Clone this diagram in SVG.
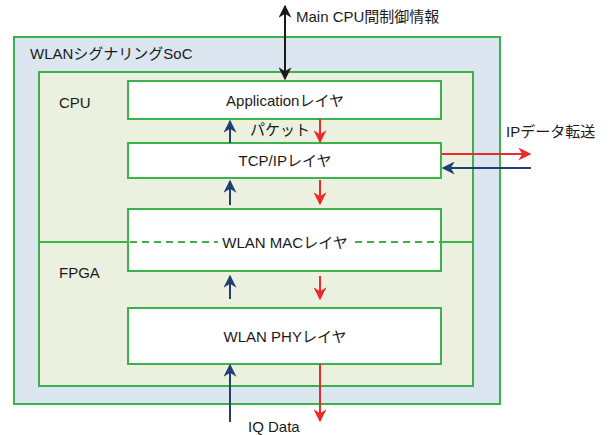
<svg xmlns="http://www.w3.org/2000/svg" width="609" height="435" viewBox="0 0 609 435">
  <style>
    text { font-family: "Liberation Sans", "Noto Sans CJK JP", sans-serif; font-size: 15px; fill: #1a1a1a; }
    .box { stroke: #3cb34a; stroke-width: 2; }
    .layer { fill: #ffffff; stroke: #3cb34a; stroke-width: 2; }
    .up { stroke: #223f73; stroke-width: 2; fill: none; }
    .down { stroke: #ec2a2a; stroke-width: 2; fill: none; }
    .ctrl { stroke: #1a1a1a; stroke-width: 2; fill: none; }
  </style>
  <defs>
    <marker id="ah-blue" viewBox="0 0 10 10" refX="9" refY="5" markerWidth="6.5" markerHeight="6.5" orient="auto-start-reverse" markerUnits="strokeWidth">
      <path d="M0,0 L10,5 L0,10 L3,5 Z" fill="#223f73"/>
    </marker>
    <marker id="ah-red" viewBox="0 0 10 10" refX="9" refY="5" markerWidth="6.5" markerHeight="6.5" orient="auto-start-reverse" markerUnits="strokeWidth">
      <path d="M0,0 L10,5 L0,10 L3,5 Z" fill="#ec2a2a"/>
    </marker>
    <marker id="ah-black" viewBox="0 0 10 10" refX="9" refY="5" markerWidth="6.5" markerHeight="6.5" orient="auto-start-reverse" markerUnits="strokeWidth">
      <path d="M0,0 L10,5 L0,10 L3,5 Z" fill="#1a1a1a"/>
    </marker>
  </defs>

  <!-- SoC enclosure -->
  <g id="soc">
    <rect class="box" x="14" y="37" width="486" height="367" fill="#dce6f0"/>
    <text x="30" y="59">WLANシグナリングSoC</text>
  </g>

  <!-- CPU / FPGA area -->
  <g id="cpu-fpga">
    <rect class="box" x="39" y="72" width="434" height="314" fill="#ebf1de"/>
    <line class="box" x1="39" y1="242" x2="128" y2="242"/>
    <line class="box" x1="441" y1="242" x2="473" y2="242"/>
    <text x="59" y="108">CPU</text>
    <text x="59" y="278">FPGA</text>
  </g>

  <g id="app-layer">
    <rect class="layer" x="128" y="81" width="313" height="38"/>
    <text x="285" y="106" text-anchor="middle">Applicationレイヤ</text>
  </g>

  <g id="tcpip-layer">
    <rect class="layer" x="128" y="143" width="313" height="35"/>
    <text x="285" y="166" text-anchor="middle">TCP/IPレイヤ</text>
  </g>

  <g id="mac-layer">
    <rect class="layer" x="128" y="209" width="313" height="62"/>
    <line x1="130" y1="242" x2="218" y2="242" stroke="#3cb34a" stroke-width="2" stroke-dasharray="7,5"/>
    <line x1="355" y1="242" x2="441" y2="242" stroke="#3cb34a" stroke-width="2" stroke-dasharray="7,5"/>
    <text x="285" y="248" text-anchor="middle">WLAN MACレイヤ</text>
  </g>

  <g id="phy-layer">
    <rect class="layer" x="128" y="308" width="313" height="56"/>
    <text x="285" y="342" text-anchor="middle">WLAN PHYレイヤ</text>
  </g>

  <!-- data flow connectors -->
  <g id="connectors">
    <line class="ctrl" x1="285" y1="6" x2="285" y2="79" marker-start="url(#ah-black)" marker-end="url(#ah-black)"/>

    <line class="up" x1="230" y1="143" x2="230" y2="121" marker-end="url(#ah-blue)"/>
    <line class="down" x1="320" y1="119" x2="320" y2="142" marker-end="url(#ah-red)"/>

    <line class="up" x1="230" y1="205" x2="230" y2="181" marker-end="url(#ah-blue)"/>
    <line class="down" x1="320" y1="180" x2="320" y2="204" marker-end="url(#ah-red)"/>

    <line class="up" x1="230" y1="299" x2="230" y2="276" marker-end="url(#ah-blue)"/>
    <line class="down" x1="320" y1="276" x2="320" y2="299" marker-end="url(#ah-red)"/>

    <line class="up" x1="230" y1="422" x2="230" y2="365" marker-end="url(#ah-blue)"/>
    <line class="down" x1="320" y1="364" x2="320" y2="421" marker-end="url(#ah-red)"/>

    <line class="down" x1="442" y1="154" x2="530" y2="154" marker-end="url(#ah-red)"/>
    <line class="up" x1="531" y1="168" x2="443" y2="168" marker-end="url(#ah-blue)"/>
  </g>

  <!-- free labels -->
  <text x="296" y="22">Main CPU間制御情報</text>
  <text x="250" y="135">パケット</text>
  <text x="506" y="137">IPデータ転送</text>
  <text x="248" y="432">IQ Data</text>
</svg>
